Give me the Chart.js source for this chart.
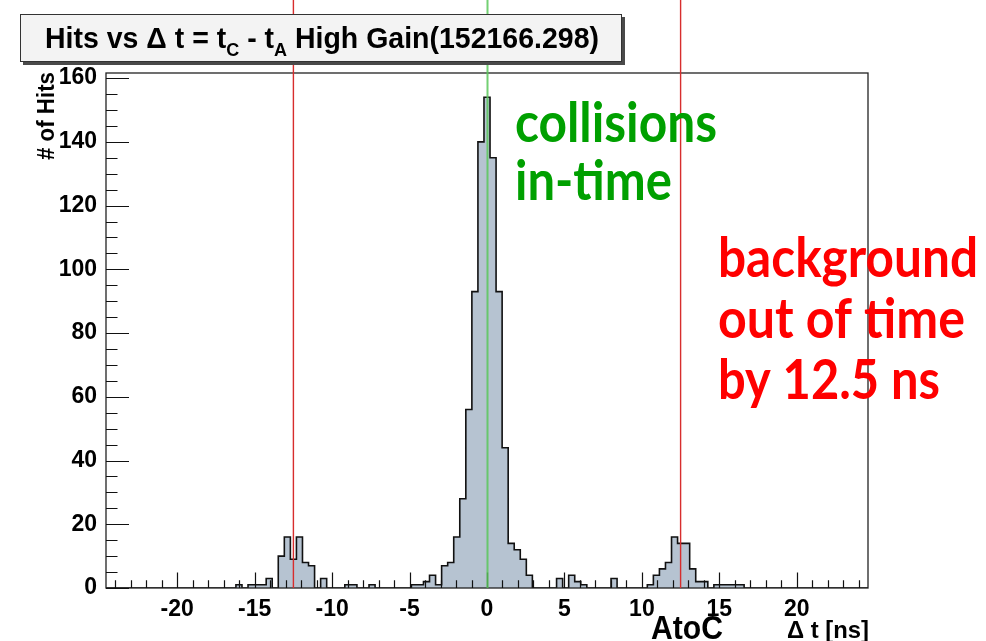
<!DOCTYPE html>
<html>
<head>
<meta charset="utf-8">
<script src="https://cdn.jsdelivr.net/npm/chart.js@4.4.1/dist/chart.umd.min.js"></script>
<style>
  html, body { margin: 0; padding: 0; background: #fff; }
  #wrap { position: relative; width: 986px; height: 641px; }
</style>
</head>
<body>
<div id="wrap"><canvas id="hitsChart" width="986" height="641"></canvas></div>
<script>
// histogram: bins of 25/64 ns, bin k is centred on k * binWidth
const binWidth = 0.390625;
const binIndex = [-41, -39, -38, -37, -36, -34, -33, -32, -31, -30, -29, -27, -23, -22, -19,
  -12, -11, -10, -9, -8, -7, -6, -5, -4, -3, -2, -1, 0, 1, 2, 3, 4, 5, 6, 7,
  12, 14, 15, 16, 21, 27, 28, 29, 30, 31, 32, 33, 34, 35, 36, 38, 39, 40, 41, 42];
const hitCounts = [1, 1, 1, 1, 3, 10, 16, 9, 16, 8, 7, 3, 1, 1, 1,
  1, 1, 2, 4, 1, 7, 8, 16, 28, 56, 93, 140, 154, 135, 93, 44, 14, 12, 9, 4,
  3, 4, 2, 1, 3, 1, 4, 6, 8, 16, 14, 14, 6, 2, 2, 1, 1, 1, 1, 1];

const xTicks = [-20, -15, -10, -5, 0, 5, 10, 15, 20];
const yTicks = [0, 20, 40, 60, 80, 100, 120, 140, 160];
const backgroundTimes = [-12.5, 12.5];   // red lines
const collisionTimes = [0];              // green line

// build step points (left edge of each bin) from the bin list
const maxBin = 63;
const countByBin = {};
binIndex.forEach((k, i) => { countByBin[k] = hitCounts[i]; });
const histPoints = [];
for (let k = -maxBin; k <= maxBin; k++) {
  histPoints.push({ x: (k - 0.5) * binWidth, y: countByBin[k] || 0 });
}
histPoints.push({ x: (maxBin + 0.5) * binWidth, y: 0 });

const rootFont = '"Liberation Sans", Arial, sans-serif';

function drawFit(ctx, text, x, y, width, font, color, align) {
  ctx.save();
  ctx.font = font;
  ctx.fillStyle = color;
  ctx.textBaseline = 'alphabetic';
  const w = ctx.measureText(text).width;
  const sx = width / w;
  let x0 = x;
  if (align === 'right') x0 = x - width;
  if (align === 'center') x0 = x - width / 2;
  ctx.translate(x0, y);
  ctx.scale(sx, 1);
  ctx.textAlign = 'left';
  ctx.fillText(text, 0, 0);
  ctx.restore();
}

const rootDecor = {
  id: 'rootDecor',
  afterDatasetsDraw(chart) {
    const ctx = chart.ctx;
    const area = chart.chartArea;
    const xs = chart.scales.x;
    const ys = chart.scales.y;

    // frame
    ctx.save();
    ctx.strokeStyle = '#222';
    ctx.lineWidth = 1.3;
    ctx.strokeRect(area.left, area.top, area.right - area.left, area.bottom - area.top);

    // ticks inside the frame
    ctx.lineWidth = 1.2;
    ctx.strokeStyle = '#111';
    ctx.beginPath();
    for (let v = 0; v <= 160; v += 5) {
      const py = Math.round(ys.getPixelForValue(v)) + 0.5;
      const len = yTicks.includes(v) ? 23 : 11.5;
      ctx.moveTo(area.left, py);
      ctx.lineTo(area.left + len, py);
    }
    for (let v = -24; v <= 24; v += 1) {
      const px = Math.round(xs.getPixelForValue(v)) + 0.5;
      const len = xTicks.includes(v) ? 15.5 : 7.7;
      ctx.moveTo(px, area.bottom);
      ctx.lineTo(px, area.bottom - len);
    }
    ctx.stroke();

    // timing lines
    ctx.lineWidth = 1.4;
    ctx.strokeStyle = 'rgb(215,45,45)';
    backgroundTimes.forEach(t => {
      const px = xs.getPixelForValue(t);
      ctx.beginPath();
      ctx.moveTo(px, 0);
      ctx.lineTo(px, area.bottom);
      ctx.stroke();
    });
    ctx.lineWidth = 2;
    ctx.strokeStyle = 'rgba(90,200,90,0.85)';
    collisionTimes.forEach(t => {
      const px = xs.getPixelForValue(t) + 0.5;
      ctx.beginPath();
      ctx.moveTo(px, 0);
      ctx.lineTo(px, area.bottom);
      ctx.stroke();
    });

    // title box with shadow
    ctx.fillStyle = '#4a4a4a';
    ctx.fillRect(23, 17, 602, 48);
    ctx.fillStyle = '#f3f3f3';
    ctx.fillRect(20, 14, 602, 48);
    ctx.strokeStyle = '#333';
    ctx.lineWidth = 1;
    ctx.strokeRect(20.5, 14.5, 601, 47);

    // title text with subscripts
    const big = 'bold 30px ' + rootFont;
    const small = 'bold 19px ' + rootFont;
    const parts = [
      ['Hits vs \u0394 t = t', big, 0],
      ['C', small, 8],
      [' - t', big, 0],
      ['A', small, 8],
      [' High Gain(152166.298)', big, 0]
    ];
    let total = 0;
    parts.forEach(p => { ctx.font = p[1]; total += ctx.measureText(p[0]).width; });
    const sx = 554 / total;
    ctx.save();
    ctx.translate(45, 48);
    ctx.scale(sx, 1);
    ctx.fillStyle = '#000';
    let cx = 0;
    parts.forEach(p => {
      ctx.font = p[1];
      ctx.fillText(p[0], cx, p[2]);
      cx += ctx.measureText(p[0]).width;
    });
    ctx.restore();

    // axis titles
    drawFit(ctx, 'AtoC', 651, 639, 72, 'bold 34px ' + rootFont, '#000', 'left');
    drawFit(ctx, '\u0394 t [ns]', 869, 638, 82, 'bold 24px ' + rootFont, '#000', 'right');
    ctx.save();
    ctx.translate(54, 72);
    ctx.rotate(-Math.PI / 2);
    drawFit(ctx, '# of Hits', 0, 0, 88, 'bold 24px ' + rootFont, '#000', 'right');
    ctx.restore();

    // annotations
    const note = 'bold 56px Lato, "Open Sans", sans-serif';
    drawFit(ctx, 'collisions', 515, 142, 202, note, 'rgb(0,160,0)', 'left');
    drawFit(ctx, 'in-time', 515, 200, 157, note, 'rgb(0,160,0)', 'left');
    drawFit(ctx, 'background', 718, 277, 260, note, 'rgb(255,0,0)', 'left');
    drawFit(ctx, 'out of time', 718, 338, 247, note, 'rgb(255,0,0)', 'left');
    drawFit(ctx, 'by 12.5 ns', 718, 399, 222, note, 'rgb(255,0,0)', 'left');
    ctx.restore();
  }
};

const ctx = document.getElementById('hitsChart');
new Chart(ctx, {
  type: 'line',
  data: {
    datasets: [{
      label: 'Hits',
      data: histPoints,
      stepped: 'before',
      fill: 'origin',
      backgroundColor: 'rgb(182,195,209)',
      borderColor: '#111',
      borderWidth: 1.6,
      pointRadius: 0,
      tension: 0
    }]
  },
  options: {
    responsive: false,
    animation: false,
    events: [],
    layout: { padding: { top: 73, right: 118, left: 0, bottom: 0 } },
    plugins: { legend: { display: false }, tooltip: { enabled: false } },
    scales: {
      x: {
        type: 'linear',
        min: -24.6,
        max: 24.6,
        grid: { display: false, tickLength: 0 },
        border: { display: false },
        afterBuildTicks: s => { s.ticks = xTicks.map(v => ({ value: v })); },
        afterFit: s => { s.height = 53; },
        ticks: {
          autoSkip: false,
          maxRotation: 0,
          padding: 8,
          color: '#000',
          font: { family: rootFont, size: 23, weight: 'bold' }
        }
      },
      y: {
        type: 'linear',
        min: 0,
        max: 161.6,
        grid: { display: false, tickLength: 0 },
        border: { display: false },
        afterBuildTicks: s => { s.ticks = yTicks.map(v => ({ value: v })); },
        afterFit: s => { s.width = 106; },
        ticks: {
          autoSkip: false,
          padding: 9,
          color: '#000',
          font: { family: rootFont, size: 23, weight: 'bold' }
        }
      }
    }
  },
  plugins: [rootDecor]
});
</script>
</body>
</html>
